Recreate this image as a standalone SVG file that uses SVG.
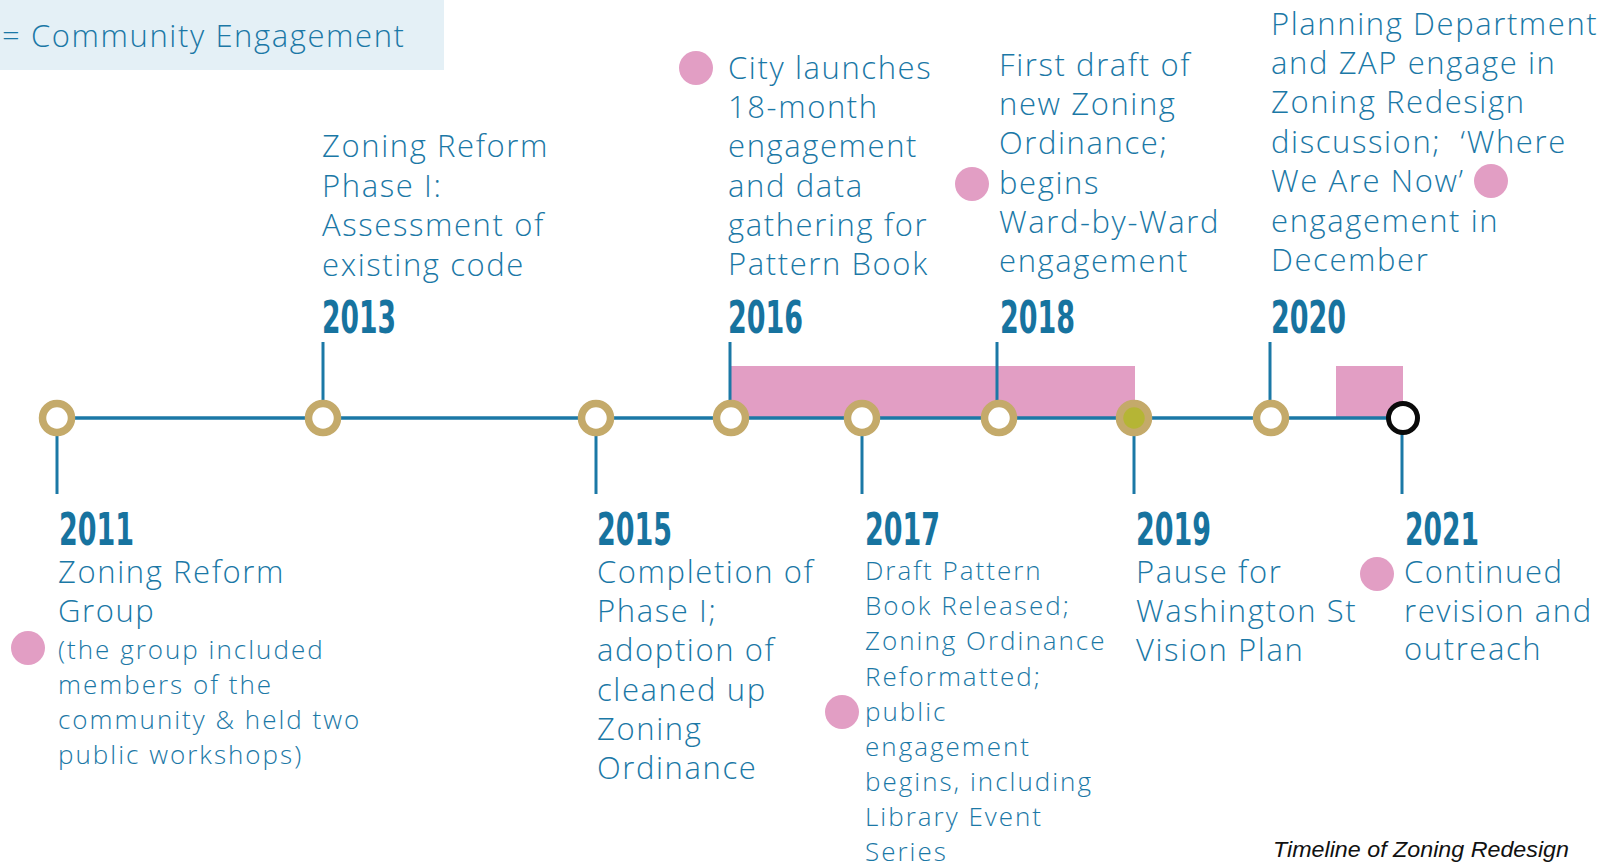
<svg xmlns="http://www.w3.org/2000/svg" width="1597" height="866" viewBox="0 0 1597 866">
<style>
.t{font-family:"Open Sans","Noto Sans",sans-serif;font-weight:300;font-size:31px;letter-spacing:1.6px;fill:#1b78a6}
.s{font-family:"Open Sans","Noto Sans",sans-serif;font-weight:300;font-size:26px;letter-spacing:2px;fill:#1b78a6}
.y{font-family:"DejaVu Sans Condensed","DejaVu Sans",sans-serif;font-weight:bold;font-size:45px;fill:#17739f}
.tick{stroke:#1b78a6;stroke-width:3;fill:none}
.node{fill:#ffffff;stroke:#c4aa6a;stroke-width:7.5}
.dot{fill:#e29ec4}
.band{fill:#e29ec4}
</style>
<rect x="0" y="0" width="444" height="70" fill="#e4f0f6"/>
<text class="t" x="2" y="47" font-size="32">= Community Engagement</text>
<rect class="band" x="730" y="366" width="405" height="52"/>
<rect class="band" x="1336" y="366" width="67" height="52"/>
<g id="connectors">
<line class="tick" x1="57" y1="418" x2="1403" y2="418" style="stroke-width:3.5"/>
<line class="tick" x1="57" y1="418" x2="57" y2="494"/>
<line class="tick" x1="323" y1="342" x2="323" y2="418"/>
<line class="tick" x1="596" y1="418" x2="596" y2="494"/>
<line class="tick" x1="730" y1="342" x2="730" y2="418"/>
<line class="tick" x1="862" y1="418" x2="862" y2="494"/>
<line class="tick" x1="997" y1="342" x2="997" y2="418"/>
<line class="tick" x1="1134" y1="418" x2="1134" y2="494"/>
<line class="tick" x1="1270" y1="342" x2="1270" y2="418"/>
<line class="tick" x1="1402" y1="418" x2="1402" y2="494"/>
</g>
<g id="n2011">
<circle class="node" cx="57" cy="418" r="14.5"/>
<text class="y" x="59" y="545" textLength="75" lengthAdjust="spacingAndGlyphs">2011</text>
<text class="t" x="58" y="583">Zoning Reform</text>
<text class="t" x="58" y="622">Group</text>
<circle class="dot" cx="28" cy="648" r="17"/>
<text class="s" x="58" y="659">(the group included</text>
<text class="s" x="58" y="694">members of the</text>
<text class="s" x="58" y="729">community &amp; held two</text>
<text class="s" x="58" y="764">public workshops)</text>
</g>
<g id="n2013">
<circle class="node" cx="323" cy="418" r="14.5"/>
<text class="y" x="322" y="333" textLength="74" lengthAdjust="spacingAndGlyphs">2013</text>
<text class="t" x="322" y="157">Zoning Reform</text>
<text class="t" x="322" y="197">Phase I:</text>
<text class="t" x="322" y="236">Assessment of</text>
<text class="t" x="322" y="276">existing code</text>
</g>
<g id="n2015">
<circle class="node" cx="596" cy="418" r="14.5"/>
<text class="y" x="597" y="545" textLength="75" lengthAdjust="spacingAndGlyphs">2015</text>
<text class="t" x="597" y="583">Completion of</text>
<text class="t" x="597" y="622">Phase I;</text>
<text class="t" x="597" y="661">adoption of</text>
<text class="t" x="597" y="701">cleaned up</text>
<text class="t" x="597" y="740">Zoning</text>
<text class="t" x="597" y="779">Ordinance</text>
</g>
<g id="n2016">
<circle class="node" cx="731" cy="418" r="14.5"/>
<text class="y" x="728" y="333" textLength="75" lengthAdjust="spacingAndGlyphs">2016</text>
<circle class="dot" cx="696" cy="68" r="17"/>
<text class="t" x="728" y="79">City launches</text>
<text class="t" x="728" y="118">18-month</text>
<text class="t" x="728" y="157">engagement</text>
<text class="t" x="728" y="197">and data</text>
<text class="t" x="728" y="236">gathering for</text>
<text class="t" x="728" y="275">Pattern Book</text>
</g>
<g id="n2017">
<circle class="node" cx="862" cy="418" r="14.5"/>
<text class="y" x="865" y="545" textLength="75" lengthAdjust="spacingAndGlyphs">2017</text>
<text class="s" x="865" y="580">Draft Pattern</text>
<text class="s" x="865" y="615">Book Released;</text>
<text class="s" x="865" y="650">Zoning Ordinance</text>
<text class="s" x="865" y="686">Reformatted;</text>
<circle class="dot" cx="842" cy="712" r="17"/>
<text class="s" x="865" y="721">public</text>
<text class="s" x="865" y="756">engagement</text>
<text class="s" x="865" y="791">begins, including</text>
<text class="s" x="865" y="826">Library Event</text>
<text class="s" x="865" y="861">Series</text>
</g>
<g id="n2018">
<circle class="node" cx="999" cy="418" r="14.5"/>
<text class="y" x="1000" y="333" textLength="75" lengthAdjust="spacingAndGlyphs">2018</text>
<text class="t" x="999" y="76">First draft of</text>
<text class="t" x="999" y="115">new Zoning</text>
<text class="t" x="999" y="154">Ordinance;</text>
<circle class="dot" cx="972" cy="184" r="17"/>
<text class="t" x="999" y="194">begins</text>
<text class="t" x="999" y="233">Ward-by-Ward</text>
<text class="t" x="999" y="272">engagement</text>
</g>
<g id="n2019">
<circle cx="1134" cy="418" r="14.5" fill="#b5b535" stroke="#c4aa6a" stroke-width="7.5"/>
<text class="y" x="1136" y="545" textLength="75" lengthAdjust="spacingAndGlyphs">2019</text>
<text class="t" x="1136" y="583">Pause for</text>
<text class="t" x="1136" y="622">Washington St</text>
<text class="t" x="1136" y="661">Vision Plan</text>
</g>
<g id="n2020">
<circle class="node" cx="1271" cy="418" r="14.5"/>
<text class="y" x="1271" y="333" textLength="75" lengthAdjust="spacingAndGlyphs">2020</text>
<text class="t" x="1271" y="35">Planning Department</text>
<text class="t" x="1271" y="74">and ZAP engage in</text>
<text class="t" x="1271" y="113">Zoning Redesign</text>
<text class="t" x="1271" y="153" xml:space="preserve">discussion;  ‘Where</text>
<text class="t" x="1271" y="192">We Are Now’</text>
<circle class="dot" cx="1491" cy="181" r="17"/>
<text class="t" x="1271" y="232">engagement in</text>
<text class="t" x="1271" y="271">December</text>
</g>
<g id="n2021">
<circle cx="1403" cy="418" r="14.5" fill="#ffffff" stroke="#0a0a0a" stroke-width="5"/>
<text class="y" x="1405" y="545" textLength="74" lengthAdjust="spacingAndGlyphs">2021</text>
<circle class="dot" cx="1377" cy="574" r="17"/>
<text class="t" x="1404" y="583">Continued</text>
<text class="t" x="1404" y="622">revision and</text>
<text class="t" x="1404" y="660">outreach</text>
</g>
<text x="1273" y="857" font-family="Liberation Sans, Arial, sans-serif" font-style="italic" font-size="22" fill="#111111" textLength="296" lengthAdjust="spacingAndGlyphs">Timeline of Zoning Redesign</text>
</svg>
